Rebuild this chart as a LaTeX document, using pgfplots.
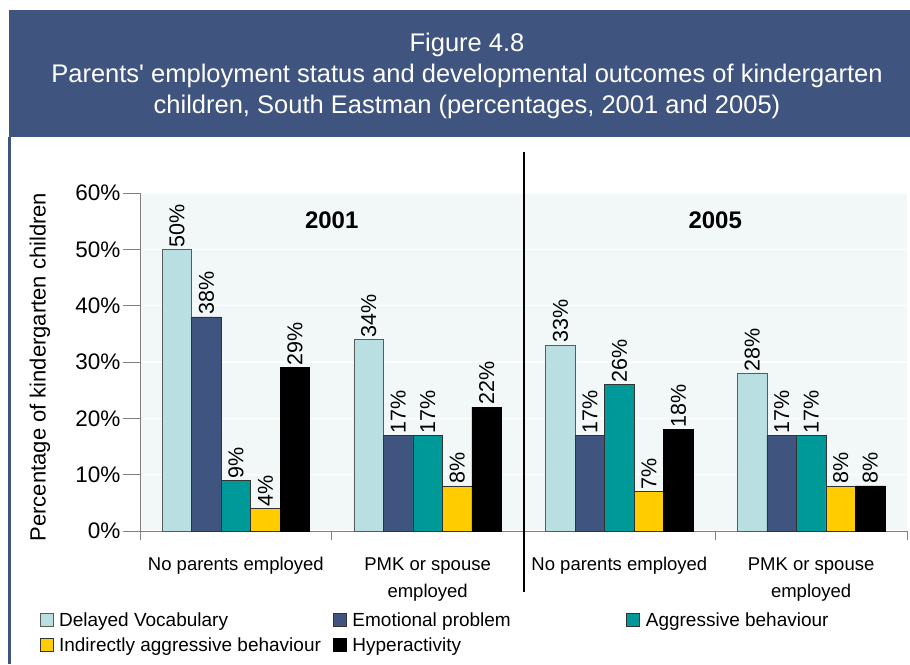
\documentclass[border=0pt]{standalone}
\usepackage{pgfplots}
\pgfplotsset{compat=1.18}
\usepackage{fontspec}
\setmainfont{Liberation Sans}
\definecolor{banner}{HTML}{405480}
\definecolor{bgc}{HTML}{F2F8F8}
\definecolor{cA}{HTML}{B9DFE3}
\definecolor{cB}{HTML}{3F5580}
\definecolor{cC}{HTML}{009999}
\definecolor{cD}{HTML}{FFCC00}
\definecolor{cE}{HTML}{000000}
\definecolor{axgray}{HTML}{808080}
\pgfplotsset{/pgf/number format/assume math mode=true}
\begin{document}
\begin{tikzpicture}[x=1pt,y=1pt]
\path[use as bounding box] (0,0) rectangle (910,664);
\fill[banner] (9,527) rectangle (910,654);
\fill[banner] (8,0) rectangle (11,527);
\node[text=white,font=\fontsize{25.5}{29}\selectfont] at (467,619) {Figure 4.8};
\node[text=white,font=\fontsize{25.5}{29}\selectfont] at (467,588) {Parents\textquotesingle\ employment status and developmental outcomes of kindergarten};
\node[text=white,font=\fontsize{25.5}{29}\selectfont] at (467,557) {children, South Eastman (percentages, 2001 and 2005)};
\node[rotate=90,font=\fontsize{22}{26}\selectfont] at (40,297) {Percentage of kindergarten children};
\begin{axis}[
  at={(140pt,133pt)}, anchor=south west,
  scale only axis, width=767pt, height=338pt,
  xmin=0, xmax=4, ymin=0, ymax=60,
  ybar=0pt, bar width=29.5pt,
  clip=false,
  axis background/.style={fill=bgc},
  axis x line*=bottom, axis y line*=left,
  axis line style={draw=axgray, line width=1pt},
  tick align=outside,
  major tick length=17pt,
  minor tick length=9pt,
  tick style={draw=axgray, line width=1pt},
  ytick={0,10,20,30,40,50,60},
  yticklabel={\pgfmathprintnumber{\tick}\%},
  yticklabel style={font=\fontsize{22.5}{26}\selectfont, xshift=1pt},
  xtick={0.5,1.5,2.5,3.5},
  minor xtick={0,1,2,3,4},
  xtick style={draw=none},
  minor x tick style={draw=axgray, line width=1pt},
  xticklabels={No parents employed,{PMK or spouse\\employed},No parents employed,{PMK or spouse\\employed}},
  xticklabel style={align=center, font=\fontsize{18.5}{27}\selectfont, yshift=-6pt},
  ymajorgrids,
  grid style={draw=white, line width=1.5pt},
  nodes near coords={\pgfmathprintnumber{\pgfplotspointmeta}\%},
  every node near coord/.append style={rotate=90, anchor=west, font=\fontsize{21.5}{25}\selectfont, inner sep=2pt, text=black},
  legend columns=3,
  legend cell align=left,
  legend image code/.code={\draw[#1] (0pt,-6.5pt) rectangle (13pt,6.5pt);},
  legend style={at={(axis description cs:-0.135,-0.228)}, anchor=north west, draw=none, fill=none,
    font=\fontsize{19}{22}\selectfont,
    /tikz/every odd column/.append style={column sep=4pt},
    row sep=6pt},
]
\addplot[fill=cA, draw=axgray!70!black] coordinates {(0.5,50) (1.5,34) (2.5,33) (3.5,28)};
\addlegendentry{\makebox[272pt][l]{Delayed Vocabulary}}
\addplot[fill=cB, draw=black!80] coordinates {(0.5,38) (1.5,17) (2.5,17) (3.5,17)};
\addlegendentry{\makebox[272pt][l]{Emotional problem}}
\addplot[fill=cC, draw=black!80] coordinates {(0.5,9) (1.5,17) (2.5,26) (3.5,17)};
\addlegendentry{\makebox[265pt][l]{Aggressive behaviour}}
\addplot[fill=cD, draw=black!80] coordinates {(0.5,4) (1.5,8) (2.5,7) (3.5,8)};
\addlegendentry{\makebox[272pt][l]{Indirectly aggressive behaviour}}
\addplot[fill=cE, draw=black] coordinates {(0.5,29) (1.5,22) (2.5,18) (3.5,8)};
\addlegendentry{\makebox[272pt][l]{Hyperactivity}}
\draw[black, line width=2pt] (axis cs:2,67.3) -- (axis cs:2,-10.8);
\node[font=\bfseries\fontsize{24}{28}\selectfont] at (axis cs:1,55.2) {2001};
\node[font=\bfseries\fontsize{24}{28}\selectfont] at (axis cs:3,55.2) {2005};
\end{axis}
\end{tikzpicture}
\end{document}
